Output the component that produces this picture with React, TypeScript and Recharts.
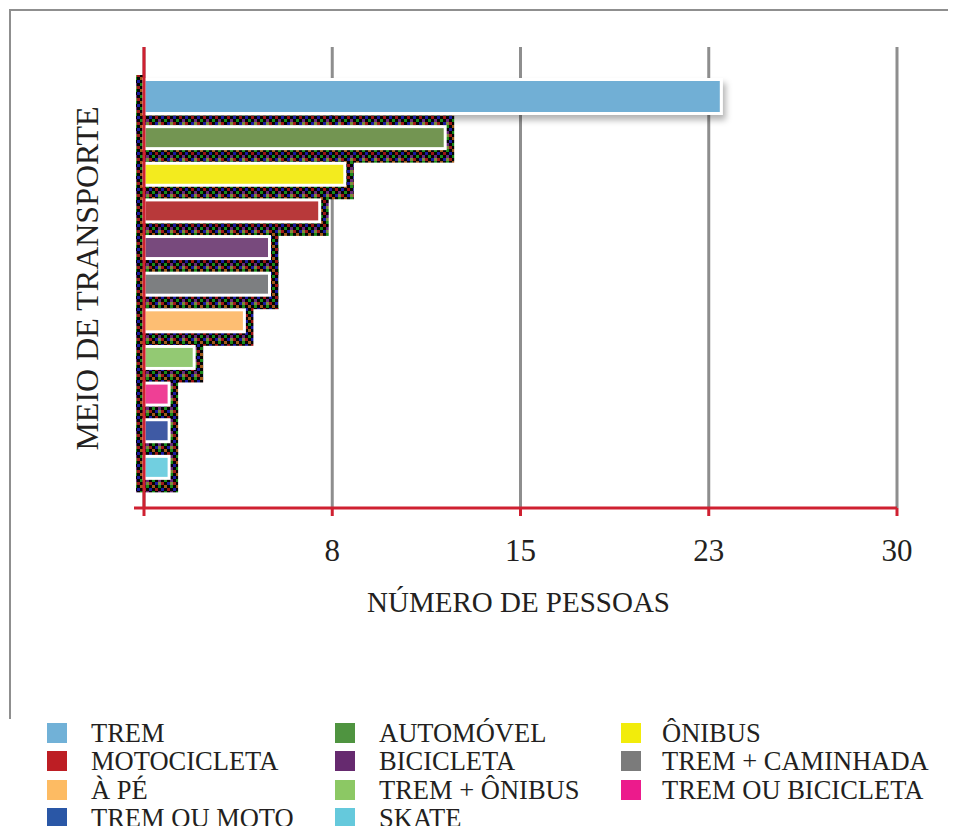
import React from "react"
import { Bar, BarChart, CartesianGrid, Cell, XAxis, YAxis } from "recharts"

// Meio de transporte x número de pessoas
const modes = [
  "TREM",
  "AUTOMÓVEL",
  "ÔNIBUS",
  "MOTOCICLETA",
  "BICICLETA",
  "TREM + CAMINHADA",
  "À PÉ",
  "TREM + ÔNIBUS",
  "TREM OU BICICLETA",
  "TREM OU MOTO",
  "SKATE",
]
const people = [23, 12, 8, 7, 5, 5, 4, 2, 1, 1, 1]
const barColors = [
  "#71afd5",
  "#739552",
  "#f3eb1e",
  "#b8393a",
  "#784a7d",
  "#7d7f81",
  "#fdbe73",
  "#93c973",
  "#ef3f95",
  "#3f5aa4",
  "#71cfe0",
]
const legendColors = [
  "#71b1d7",
  "#4f9440",
  "#f2ec0b",
  "#bd1e24",
  "#662a6f",
  "#7b7b7b",
  "#fdbb63",
  "#8cc864",
  "#ec1b8c",
  "#2a57a6",
  "#65c9dc",
]
const xTicks = [0, 7.5, 15, 22.5, 30]
const xTickLabels = ["", "8", "15", "23", "30"]

const data = modes.map((name, i) => ({ name, value: people[i] }))

const FONT = '"Liberation Serif", "Times New Roman", serif'
const INK = "#231f20"
const RED = "#cf2031"

// noisy dark tile used for the bar shadows
const noise = [
  ["#050505", "#9a1414", "#050505", "#1a1aa0"],
  ["#1a8a1a", "#050505", "#6a2a7a", "#050505"],
  ["#050505", "#1a1aa0", "#7a8a3a", "#a01a1a"],
  ["#a05a1a", "#050505", "#1a8a1a", "#050505"],
]

function BarWithShadow(props: any) {
  const { x, y, width, height, fill, index } = props
  if (index === 0) {
    return (
      <g>
        <rect x={x - 8} y={y - 15} width={8} height={height + 29} fill="url(#shadowNoise)" />
        <rect
          x={x}
          y={y - 10.5}
          width={width}
          height={height + 12}
          fill={fill}
          stroke="#fff"
          strokeWidth={3}
          filter="url(#softShadow)"
        />
      </g>
    )
  }
  return (
    <g>
      <rect x={x - 8} y={y - 11} width={width + 17} height={height + 25} fill="url(#shadowNoise)" />
      <rect x={x} y={y} width={width} height={height} fill={fill} stroke="#fff" strokeWidth={3} />
    </g>
  )
}

const yLabel = (props: any) => {
  const vb = props.viewBox
  const cx = vb.x + vb.width - 57
  const cy = vb.y + vb.height / 2 + 1
  return (
    <text
      x={cx}
      y={cy}
      dy="0.33em"
      textAnchor="middle"
      transform={`rotate(-90 ${cx} ${cy})`}
      fontFamily={FONT}
      fontSize={32}
      fill={INK}
    >
      MEIO DE TRANSPORTE
    </text>
  )
}

const xLabel = (props: any) => {
  const vb = props.viewBox
  return (
    <g>
      {/* axis line runs a little past the origin */}
      <line x1={vb.x - 10} y1={vb.y} x2={vb.x} y2={vb.y} stroke={RED} strokeWidth={3} />
      <text
        x={vb.x + vb.width / 2 - 2}
        y={vb.y + 94}
        dy="0.33em"
        textAnchor="middle"
        fontFamily={FONT}
        fontSize={29}
        fill={INK}
      >
        NÚMERO DE PESSOAS
      </text>
    </g>
  )
}

const legendSquareX = [39, 327, 613]
const legendTextX = [83, 371, 654]

export default function App() {
  return (
    <div style={{ position: "relative", width: 948, height: 818, fontFamily: FONT }}>
      <svg width={0} height={0} style={{ position: "absolute" }}>
        <defs>
          <pattern id="shadowNoise" width={12} height={12} patternUnits="userSpaceOnUse">
            {noise.map((row, r) =>
              row.map((c, k) => <rect key={`${r}-${k}`} x={k * 3} y={r * 3} width={3} height={3} fill={c} />)
            )}
          </pattern>
          <filter id="softShadow" x="-5%" y="-40%" width="115%" height="200%">
            <feDropShadow dx={3} dy={5} stdDeviation={3} floodColor="#000" floodOpacity={0.3} />
          </filter>
        </defs>
      </svg>

      <div
        style={{
          position: "absolute",
          left: 1,
          top: 1,
          width: 945,
          height: 708,
          borderTop: "2px solid #8f8f8f",
          borderLeft: "2px solid #8f8f8f",
        }}
      />

      <div style={{ position: "absolute", left: 0, top: 0 }}>
        <BarChart
          width={948}
          height={610}
          data={data}
          layout="vertical"
          margin={{ top: 39, right: 59, bottom: 0, left: 0 }}
        >
          <CartesianGrid horizontal={false} stroke="#8e8e8e" strokeWidth={3} />
          <XAxis
            type="number"
            domain={[0, 30]}
            ticks={xTicks}
            interval={0}
            height={110}
            tickSize={8}
            tickMargin={23}
            tickFormatter={(_v: number, i: number) => xTickLabels[i]}
            axisLine={{ stroke: RED, strokeWidth: 3 }}
            tickLine={{ stroke: RED, strokeWidth: 3 }}
            tick={{ fontSize: 31, fill: INK, fontFamily: FONT }}
            label={xLabel}
          />
          <YAxis
            type="category"
            dataKey="name"
            width={136}
            padding={{ top: 36, bottom: 22 }}
            tick={false}
            tickLine={false}
            axisLine={{ stroke: RED, strokeWidth: 3 }}
            label={yLabel}
          />
          <Bar dataKey="value" barSize={22} shape={BarWithShadow} isAnimationActive={false}>
            {data.map((_d, i) => (
              <Cell key={i} fill={barColors[i]} />
            ))}
          </Bar>
        </BarChart>
      </div>

      {modes.map((name, i) => {
        const col = i % 3
        const row = Math.floor(i / 3)
        const top = 711 + row * 28.3
        return (
          <React.Fragment key={name}>
            <div
              style={{
                position: "absolute",
                left: legendSquareX[col],
                top: top + 4,
                width: 20,
                height: 20,
                background: legendColors[i],
              }}
            />
            <div
              style={{
                position: "absolute",
                left: legendTextX[col],
                top,
                fontSize: 26.5,
                lineHeight: "28px",
                color: INK,
                whiteSpace: "nowrap",
              }}
            >
              {name}
            </div>
          </React.Fragment>
        )
      })}
    </div>
  )
}
